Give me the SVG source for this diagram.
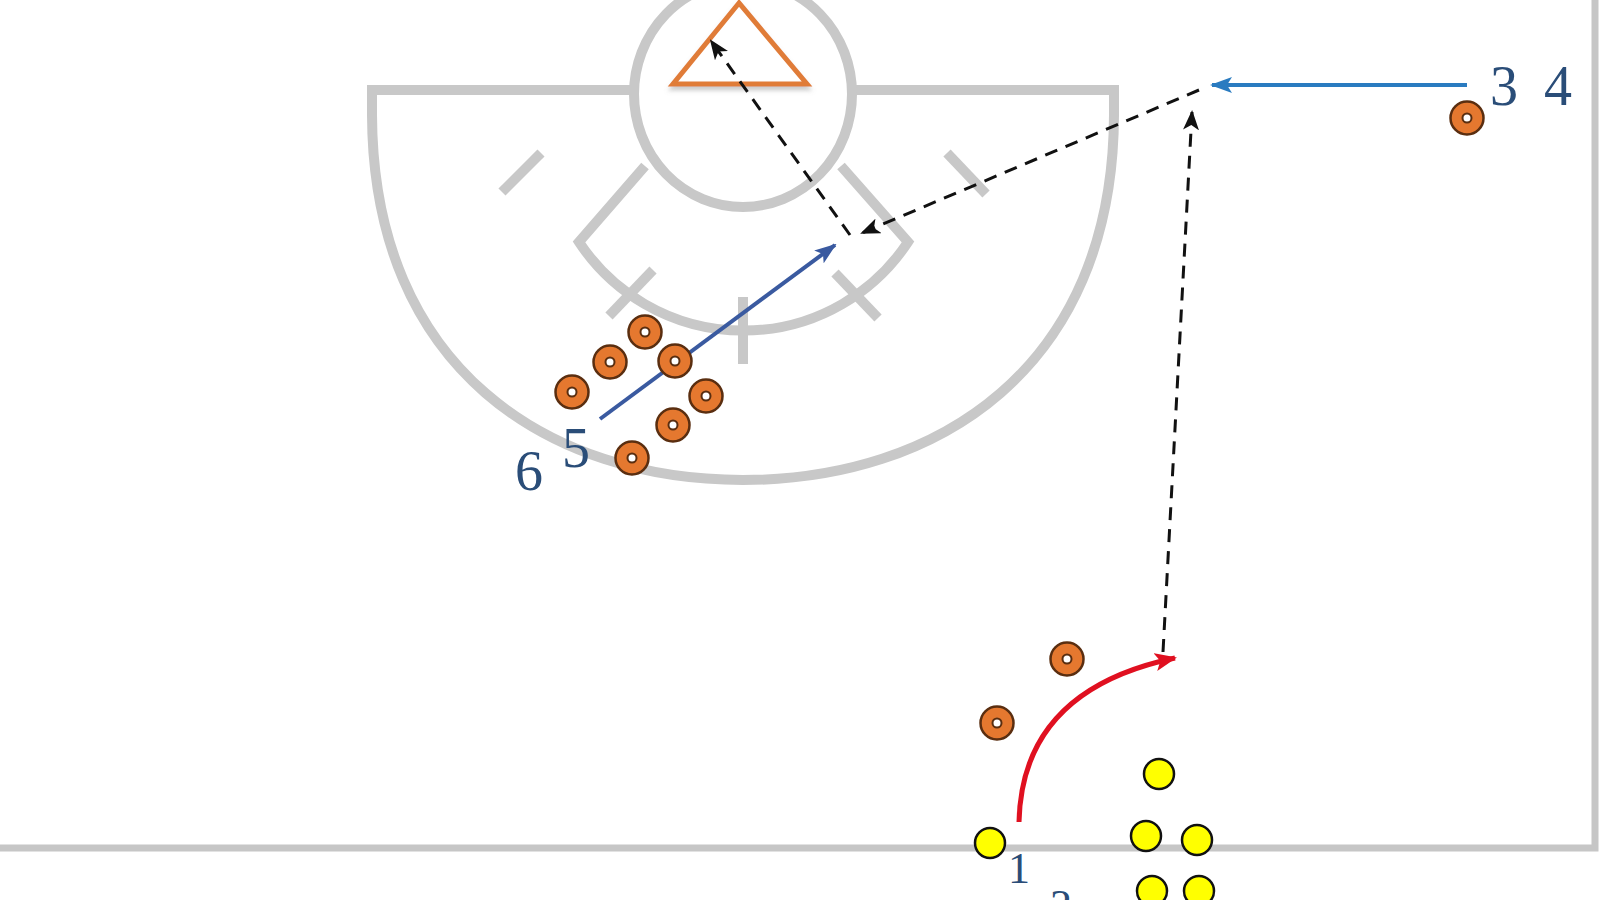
<svg xmlns="http://www.w3.org/2000/svg" width="1600" height="900" viewBox="0 0 1600 900">
  <style>
    .court { fill: none; stroke: #c8c8c8; stroke-width: 10; stroke-linecap: butt; }
    .side { fill: none; stroke: #c6c6c6; stroke-width: 7; }
    .cone-o { fill: #e5782f; stroke: #5a2e10; stroke-width: 2.5; }
    .cone-i { fill: #ffffff; stroke: #5a2e10; stroke-width: 2; }
    .ball { fill: #ffff00; stroke: #111111; stroke-width: 2.5; }
    .dash { fill: none; stroke: #111111; stroke-width: 3; stroke-dasharray: 13 9; marker-end: url(#ahBlack); }
    .lbl { font-family: "Liberation Serif", "DejaVu Serif", serif; fill: #2a4d78; }
  </style>
  <defs>
    <marker id="ahBlack" markerUnits="userSpaceOnUse" markerWidth="20" markerHeight="16" refX="18" refY="8" orient="auto">
      <path d="M0,0 L20,8 L0,16 L5,8 Z" fill="#111111"/>
    </marker>
    <marker id="ahBlue" markerUnits="userSpaceOnUse" markerWidth="22" markerHeight="16" refX="20" refY="8" orient="auto">
      <path d="M0,0 L22,8 L0,16 L5,8 Z" fill="#2a7bc0"/>
    </marker>
    <marker id="ahNavy" markerUnits="userSpaceOnUse" markerWidth="22" markerHeight="16" refX="20" refY="8" orient="auto">
      <path d="M0,0 L22,8 L0,16 L5,8 Z" fill="#3a5aa0"/>
    </marker>
    <marker id="ahRed" markerUnits="userSpaceOnUse" markerWidth="22" markerHeight="18" refX="20" refY="9" orient="auto">
      <path d="M0,0 L22,9 L0,18 L5,9 Z" fill="#e01020"/>
    </marker>
    <filter id="shadow" x="-20%" y="-20%" width="140%" height="160%">
      <feDropShadow dx="0" dy="4" stdDeviation="2" flood-color="#999999" flood-opacity="0.5"/>
    </filter>
  </defs>
  <rect width="1600" height="900" fill="#ffffff"/>

  <g id="court">
    <path class="side" d="M0 848 H1595 V0"/>
    <path class="court" d="M634 90 H372 V115 C373 370 550 480 743 480 C936 480 1113 370 1114 115 V90 H852"/>
    <ellipse class="court" cx="743" cy="94" rx="109" ry="113"/>
    <path class="court" d="M645 166 L579 242 A197 197 0 0 0 908 242 L841 166"/>
    <line class="court" x1="502" y1="192" x2="541" y2="153"/>
    <line class="court" x1="947" y1="153" x2="986" y2="194"/>
    <line class="court" x1="609" y1="316" x2="653" y2="270"/>
    <line class="court" x1="835" y1="273" x2="878" y2="318"/>
    <line class="court" x1="743" y1="297" x2="743" y2="364"/>
  </g>

  <g id="target">
    <polygon points="739,3 673,84 807,84" fill="#ffffff" stroke="#e07b39" stroke-width="5" stroke-linejoin="miter" filter="url(#shadow)"/>
  </g>

  <g id="connectors">
    <line class="dash" x1="850" y1="235" x2="711" y2="41"/>
    <line class="dash" x1="1199" y1="90" x2="862" y2="233"/>
    <line class="dash" x1="1163" y1="652" x2="1192" y2="112"/>
    <line x1="1467" y1="85" x2="1212" y2="85" stroke="#2a7bc0" stroke-width="4" marker-end="url(#ahBlue)"/>
    <line x1="600" y1="419" x2="835" y2="245" stroke="#3a5aa0" stroke-width="4" marker-end="url(#ahNavy)"/>
    <path d="M1019 822 Q1022 690 1175 658" fill="none" stroke="#e01020" stroke-width="5" marker-end="url(#ahRed)"/>
  </g>

  <g id="cones">
    <g id="cone1"><circle class="cone-o" cx="645" cy="332" r="16.5"/><circle class="cone-i" cx="645" cy="332" r="4.5"/></g>
    <g id="cone2"><circle class="cone-o" cx="610" cy="362" r="16.5"/><circle class="cone-i" cx="610" cy="362" r="4.5"/></g>
    <g id="cone3"><circle class="cone-o" cx="675" cy="361" r="16.5"/><circle class="cone-i" cx="675" cy="361" r="4.5"/></g>
    <g id="cone4"><circle class="cone-o" cx="572" cy="392" r="16.5"/><circle class="cone-i" cx="572" cy="392" r="4.5"/></g>
    <g id="cone5"><circle class="cone-o" cx="706" cy="396" r="16.5"/><circle class="cone-i" cx="706" cy="396" r="4.5"/></g>
    <g id="cone6"><circle class="cone-o" cx="673" cy="425" r="16.5"/><circle class="cone-i" cx="673" cy="425" r="4.5"/></g>
    <g id="cone7"><circle class="cone-o" cx="632" cy="458" r="16.5"/><circle class="cone-i" cx="632" cy="458" r="4.5"/></g>
    <g id="cone8"><circle class="cone-o" cx="1467" cy="118" r="16.5"/><circle class="cone-i" cx="1467" cy="118" r="4.5"/></g>
    <g id="cone9"><circle class="cone-o" cx="1067" cy="659" r="16.5"/><circle class="cone-i" cx="1067" cy="659" r="4.5"/></g>
    <g id="cone10"><circle class="cone-o" cx="997" cy="723" r="16.5"/><circle class="cone-i" cx="997" cy="723" r="4.5"/></g>
  </g>

  <g id="balls">
    <circle id="ball1" class="ball" cx="990" cy="843" r="15"/>
    <circle id="ball2" class="ball" cx="1159" cy="774" r="15"/>
    <circle id="ball3" class="ball" cx="1146" cy="836" r="15"/>
    <circle id="ball4" class="ball" cx="1197" cy="840" r="15"/>
    <circle id="ball5" class="ball" cx="1152" cy="891" r="15"/>
    <circle id="ball6" class="ball" cx="1199" cy="891" r="15"/>
  </g>

  <g id="labels">
    <text class="lbl" x="1490" y="105" font-size="56">3</text>
    <text class="lbl" x="1544" y="105" font-size="56">4</text>
    <text class="lbl" x="562" y="467" font-size="56">5</text>
    <text class="lbl" x="515" y="490" font-size="56">6</text>
    <text class="lbl" x="1008" y="883" font-size="44">1</text>
    <text class="lbl" x="1050" y="920" font-size="44">2</text>
  </g>
</svg>
